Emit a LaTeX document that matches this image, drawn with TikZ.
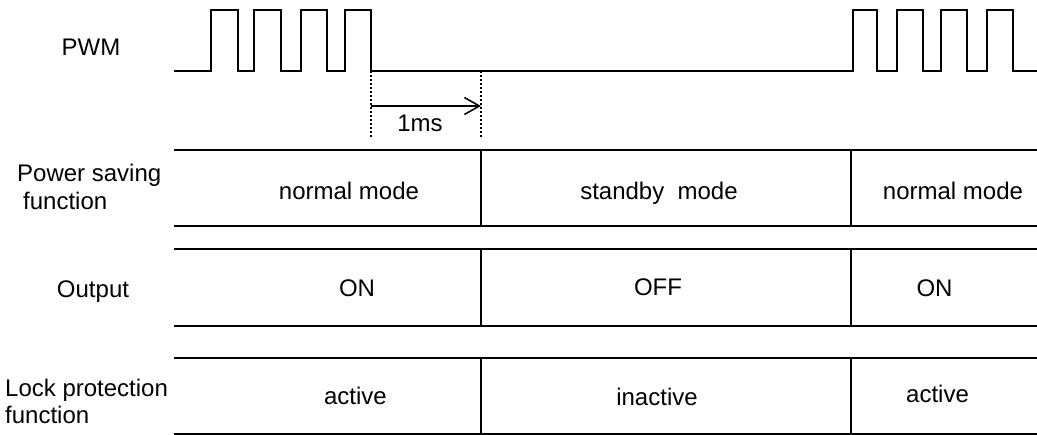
\documentclass[tikz,border=0pt]{standalone}
\usepackage{fontspec}
\setmainfont{Liberation Sans}
\usetikzlibrary{arrows.meta}
\begin{document}
\begin{tikzpicture}[x=1pt,y=-1pt,
  sig/.style={line width=1.8pt, line join=miter},
  rule/.style={line width=1.8pt},
  guide/.style={line width=1.3pt, dash pattern=on 2pt off 2pt},
  lbl/.style={inner sep=0pt, font=\fontsize{24}{28}\selectfont},
]
\useasboundingbox (0,0) rectangle (1037,435);
% PWM waveform
\draw[sig] (174,71) -- (211,71) |- (238,10) |- (254,71) |- (281,10) |- (301,71) |- (327,10) |- (345,71) |- (371,10)
  |- (853,71) |- (877,10) |- (897,71) |- (923,10) |- (941,71) |- (967,10) |- (987,71) |- (1013,10) |- (1037,71);
% 1ms marker
\coordinate (d1t) at (371,71);
\coordinate (d1b) at (371,137);
\coordinate (d2t) at (481,71);
\coordinate (d2b) at (481,137);
\draw[guide] (d1t) -- (d1b);
\draw[guide] (d2t) -- (d2b);
\coordinate (as) at (371,106);
\coordinate (ae) at (481,106);
\draw[line width=1.6pt, -{Straight Barb[length=15pt,width=17pt,line width=1.6pt]}] (as) -- (ae);
\node[lbl, anchor=base] (ms) at (420,131.7) {1ms};
% table rows
\foreach \t/\b in {150/226, 249/326, 358/434}{
  \draw[rule] (174,\t) -- (1037,\t);
  \draw[rule] (174,\b) -- (1037,\b);
  \draw[rule] (481,\t) -- (481,\b);
  \draw[rule] (851,\t) -- (851,\b);
}
% left labels
\node[lbl, anchor=base] (pwm) at (91,55.7) {PWM};
\node[lbl, anchor=base west] (ps1) at (17,181.7) {Power saving};
\node[lbl, anchor=base west] (ps2) at (23,210) {function};
\node[lbl, anchor=base] (out) at (93,298) {Output};
\node[lbl, anchor=base west] (lp1) at (5,396.7) {Lock protection};
\node[lbl, anchor=base west] (lp2) at (5,423.3) {function};
% cells
\node[lbl, anchor=base] (c11) at (349,200) {normal mode};
\node[lbl, anchor=base] (c12) at (659,200) {standby~~mode};
\node[lbl, anchor=base] (c13) at (953,200) {normal mode};
\node[lbl, anchor=base] (c21) at (357,296.7) {ON};
\node[lbl, anchor=base] (c22) at (658,296) {OFF};
\node[lbl, anchor=base] (c23) at (934.5,296.7) {ON};
\node[lbl, anchor=base] (c31) at (355.5,405) {active};
\node[lbl, anchor=base] (c32) at (657,406) {inactive};
\node[lbl, anchor=base] (c33) at (937.5,403) {active};
\end{tikzpicture}
\end{document}
